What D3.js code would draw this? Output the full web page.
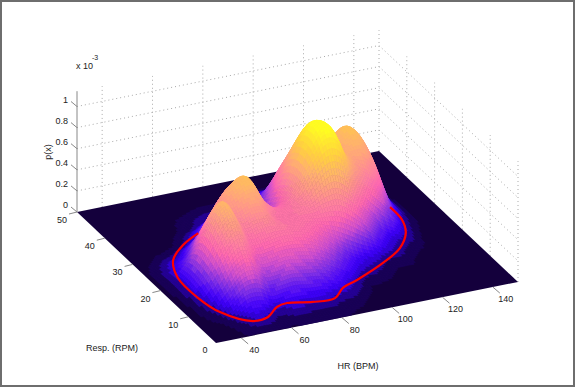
<!DOCTYPE html>
<html lang="en">
  <head>
    <meta charset="utf-8" />
    <title>p(x) surface</title>
    <script src="https://cdnjs.cloudflare.com/ajax/libs/d3/7.8.5/d3.min.js"></script>
    <style type="text/css">
      body { margin: 0; background: #fff; }
      text { font-family: "Liberation Sans", Helvetica, sans-serif; font-size: 9px; fill: #222; }
      .grid { fill: none; stroke: #aaa; stroke-dasharray: 1, 3; }
      .tick { stroke: #888; }
    </style>
  </head>

  <body>
    <script>
      // Density (x 10^-3), one row per resp value
      const hrValues = [30, 35, 40, 45, 50, 55, 60, 65, 70, 75, 80, 85, 90, 95, 100, 105, 110, 115, 120, 125, 130, 135, 140, 145, 150];
      const respValues = [0, 5, 10, 15, 20, 25, 30, 35, 40, 45, 50];
      const density = [
        [0, 0, 0, .01, .01, .01, .005, .005, .005, .005, .005, .005, 0, 0, 0, 0, 0, 0, 0, 0, 0, 0, 0, 0, 0],
        [0, 0, .01, .05, .10, .09, .05, .07, .07, .06, .06, .04, .03, .01, 0, 0, 0, 0, 0, 0, 0, 0, 0, 0, 0],
        [0, .01, .06, .18, .32, .36, .26, .26, .28, .26, .24, .20, .14, .08, .03, .02, .01, 0, 0, 0, 0, 0, 0, 0, 0],
        [0, .02, .12, .30, .52, .60, .44, .44, .46, .46, .44, .40, .34, .26, .18, .12, .08, .04, .03, .01, 0, 0, 0, 0, 0],
        [0, .03, .13, .32, .60, .72, .56, .60, .60, .48, .46, .48, .50, .56, .58, .50, .36, .22, .12, .07, .03, 0, 0, 0, 0],
        [0, .02, .07, .12, .28, .46, .62, .72, .76, .54, .42, .44, .58, .82, 1.00, .98, .72, .56, .44, .28, .09, .02, 0, 0, 0],
        [0, 0, .01, .02, .05, .12, .28, .46, .50, .26, .20, .28, .52, .80, 1.00, .96, .74, .70, .72, .56, .20, .04, 0, 0, 0],
        [0, 0, 0, 0, 0, .02, .05, .10, .12, .08, .08, .16, .30, .52, .62, .60, .54, .68, .75, .60, .22, .03, 0, 0, 0],
        [0, 0, 0, 0, 0, 0, .01, .02, .03, .03, .03, .05, .10, .16, .18, .18, .22, .30, .34, .24, .07, .01, 0, 0, 0],
        [0, 0, 0, 0, 0, 0, 0, 0, 0, 0, 0, 0, 0, .01, .01, .01, .02, .03, .03, .02, 0, 0, 0, 0, 0],
        [0, 0, 0, 0, 0, 0, 0, 0, 0, 0, 0, 0, 0, 0, 0, 0, 0, 0, 0, 0, 0, 0, 0, 0, 0],
      ];

      // Red contour, front part only (the rest is behind the hills)
      const contourHr = [60.5, 51.4, 42.9, 38.3, 37.9, 40.2, 47.9, 54.2, 60.6, 65.3, 74.1, 82.7, 88.8, 96.2, 110.6, 121.3, 128.5, 131.8, 132.3];
      const contourResp = [34, 31.2, 27.1, 21.2, 14, 7.8, 2.9, 3.2, 5.8, 6.4, 5.1, 4.9, 7.6, 9.2, 12.9, 16.5, 20.9, 25.2, 30];
      const contourLevel = 0.05;

      const hrTicks = [40, 60, 80, 100, 120, 140];
      const respTicks = [0, 10, 20, 30, 40, 50];
      const zTicks = [0, 0.2, 0.4, 0.6, 0.8, 1];
      const zTickLabels = ["0", "0.2", "0.4", "0.6", "0.8", "1"];

      const colorStops = [0, .03, .06, .1, .2, .3, .4, .5, .7, .85, 1.05];
      const colorValues = ["#14003c", "#20007a", "#3000d0", "#4000ff", "#8030e8", "#d050d0", "#ff68b0", "#ff80a0", "#ffb070", "#ffd040", "#ffff20"];

      const width = 575;
      const height = 387;

      // Axonometric projection: each axis is its own pair of pixel scales
      const hrX = d3.scaleLinear([30, 150], [0, 302]);
      const hrY = d3.scaleLinear([30, 150], [0, -61]);
      const respX = d3.scaleLinear([0, 50], [0, -139]);
      const respY = d3.scaleLinear([0, 50], [0, -131]);
      const zY = d3.scaleLinear([0, 1], [0, -105.5]);
      const zMax = 1.145;
      const project = (h, r, z = 0) => [216 + hrX(h) + respX(r), 343 + hrY(h) + respY(r) + zY(z)];

      const rampColor = d3.scaleLinear(colorStops, colorValues).clamp(true);
      const levelColor = d3.scaleQuantize([0, 1.05], d3.range(40).map(i => rampColor((i + 0.5) / 40 * 1.05)));

      const catmull = (p0, p1, p2, p3, t) =>
        0.5 * (2 * p1 + (p2 - p0) * t + (2 * p0 - 5 * p1 + 4 * p2 - p3) * t * t + (3 * p1 - p0 - 3 * p2 + p3) * t * t * t);

      // smooth lookup between the read values, only so the mesh drawn is not faceted
      function surface(h, r) {
        const fx = (h - hrValues[0]) / 5;
        const fy = (r - respValues[0]) / 5;
        const ix = Math.min(Math.floor(fx), hrValues.length - 2);
        const iy = Math.min(Math.floor(fy), respValues.length - 2);
        const cell = (j, i) => density[Math.max(0, Math.min(respValues.length - 1, j))][Math.max(0, Math.min(hrValues.length - 1, i))];
        const col = j => catmull(cell(j, ix - 1), cell(j, ix), cell(j, ix + 1), cell(j, ix + 2), fx - ix);
        return Math.max(0, catmull(col(iy - 1), col(iy), col(iy + 1), col(iy + 2), fy - iy));
      }

      const svg = d3.select("body").append("svg")
        .attr("width", width)
        .attr("height", height)
        .attr("viewBox", [0, 0, width, height])
        .style("display", "block");

      svg.append("rect").attr("x", 1).attr("y", 1).attr("width", width - 2).attr("height", height - 2)
        .attr("fill", "#fff").attr("stroke", "#6e6e6e").attr("stroke-width", 2);

      const line = d3.line();

      // walls
      const walls = svg.append("g");
      zTicks.slice(1).forEach(z => {
        walls.append("path").attr("class", "grid").attr("d", line([project(30, 50, z), project(150, 50, z), project(150, 0, z)]));
      });
      hrTicks.forEach(h => {
        walls.append("path").attr("class", "grid").attr("d", line([project(h, 50), project(h, 50, zMax)]));
      });
      respTicks.slice(0, 5).forEach(r => {
        walls.append("path").attr("class", "grid").attr("d", line([project(150, r), project(150, r, zMax)]));
      });
      walls.append("path").attr("class", "grid").attr("d", line([project(150, 50), project(150, 50, zMax)]));
      walls.append("path").attr("stroke", "#888").attr("d", line([project(30, 50), project(30, 50, zMax)]));

      // floor
      svg.append("path").attr("fill", colorValues[0])
        .attr("d", line([project(30, 0), project(150, 0), project(150, 50), project(30, 50)]) + "Z");

      // surface cells, back to front
      const cells = [];
      const stepH = 1;
      const stepR = 0.5;
      for (let r = 50 - stepR; r >= 0; r -= stepR) {
        for (let h = 150 - stepH; h >= 30; h -= stepH) {
          const zs = [surface(h, r), surface(h + stepH, r), surface(h + stepH, r + stepR), surface(h, r + stepR)];
          const mean = d3.mean(zs);
          if (mean < 0.006) continue;
          cells.push({
            color: levelColor(mean),
            pts: [project(h, r, zs[0]), project(h + stepH, r, zs[1]), project(h + stepH, r + stepR, zs[2]), project(h, r + stepR, zs[3])],
          });
        }
      }
      svg.append("g").selectAll("path").data(cells).join("path")
        .attr("fill", d => d.color)
        .attr("stroke", d => d.color)
        .attr("stroke-width", 0.6)
        .attr("d", d => line(d.pts) + "Z");

      // red contour
      svg.append("path")
        .attr("fill", "none")
        .attr("stroke", "#f00")
        .attr("stroke-width", 2.2)
        .attr("d", d3.line().curve(d3.curveCatmullRom)(contourHr.map((h, i) => project(h, contourResp[i], contourLevel))));

      // z axis
      zTicks.forEach((z, i) => {
        const [px, py] = project(30, 50, z);
        svg.append("line").attr("class", "tick").attr("x1", px).attr("y1", py).attr("x2", px - 6).attr("y2", py - 5);
        svg.append("text").attr("x", px - 9).attr("y", py - 4).attr("text-anchor", "end").text(zTickLabels[i]);
      });

      // resp axis
      respTicks.forEach(r => {
        const [px, py] = project(30, r);
        if (r > 0) svg.append("line").attr("class", "tick").attr("x1", px).attr("y1", py).attr("x2", px - 8).attr("y2", py + 2);
        svg.append("text").attr("x", r > 0 ? px - 15 : px - 11).attr("y", py + (r > 0 ? 11 : 10)).attr("text-anchor", "middle").text(r);
      });

      // hr axis
      hrTicks.forEach(h => {
        const [px, py] = project(h, 0);
        svg.append("line").attr("class", "tick").attr("x1", px).attr("y1", py).attr("x2", px + 7).attr("y2", py + 6);
        svg.append("text").attr("x", px + 13).attr("y", py + 15).attr("text-anchor", "middle").text(h);
      });

      svg.append("text").attr("x", 112).attr("y", 351).attr("text-anchor", "middle").text("Resp. (RPM)");
      svg.append("text").attr("x", 358).attr("y", 369).attr("text-anchor", "middle").text("HR (BPM)");
      svg.append("text").attr("transform", "translate(51,152) rotate(-90)").attr("text-anchor", "middle").text("p(x)");
      svg.append("text").attr("x", 76).attr("y", 69).text("x 10");
      svg.append("text").attr("x", 92).attr("y", 60).style("font-size", "7px").text("-3");
    </script>
  </body>
</html>
